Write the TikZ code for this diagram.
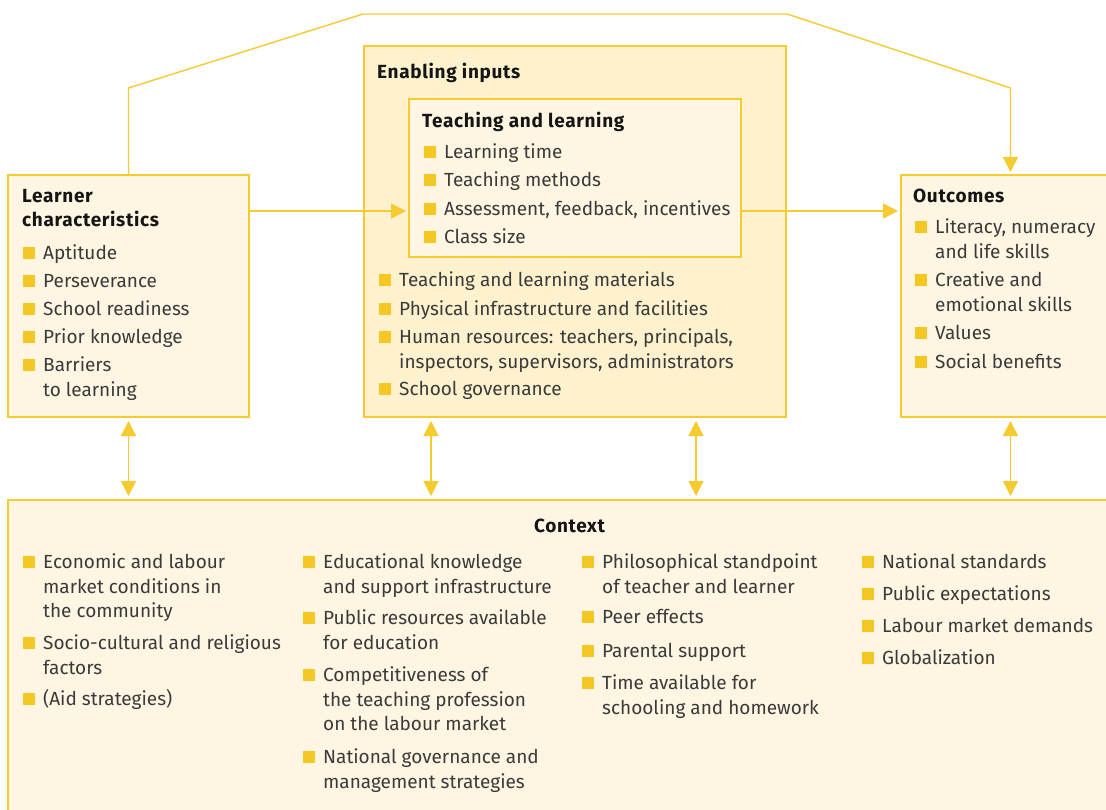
\documentclass[tikz,border=0pt]{standalone}
\usepackage{fontspec}
\setmainfont{Fira Sans}
\usetikzlibrary{arrows.meta}
\definecolor{ybord}{HTML}{F6CB30}
\definecolor{yfill}{HTML}{FEF6E2}
\definecolor{yfilldk}{HTML}{FEF2CE}
\definecolor{ybul}{HTML}{F5C723}
\definecolor{txt}{HTML}{3A3A3A}
\definecolor{hdc}{HTML}{151515}
\newcommand\twoln[2]{\vtop{\hbox{#1}\hbox{#2}}}
\newcommand\threeln[3]{\vtop{\hbox{#1}\hbox{#2}\hbox{#3}}}
\newcommand\bitem[5][20]{%
  \node[bul] (#2b) at (#3,#4) {};
  \node[itm] (#2) at (#3+#1,#4) {#5};}
\begin{document}
\begin{tikzpicture}[x=1pt,y=-1pt,
  box/.style={draw=ybord, line width=1.4pt, fill=yfill, anchor=north west, inner sep=0pt, outer sep=0pt},
  conn/.style={draw=ybord, line width=1.4pt},
  arr/.style={conn, -{Triangle[length=15pt,width=15pt]}, shorten >=3pt},
  darr/.style={conn, {Triangle[length=15pt,width=15pt]}-{Triangle[length=15pt,width=15pt]}, shorten >=4pt, shorten <=4pt},
  bul/.style={fill=ybul, anchor=south west, minimum size=12pt, inner sep=0pt},
  itm/.style={anchor=base west, inner sep=0pt, text=txt, font=\fontsize{19}{25}\selectfont},
  citm/.style={anchor=base west, inner sep=0pt, text=txt, font=\fontsize{19}{24.5}\selectfont},
  hd/.style={anchor=base west, inner sep=0pt, text=hdc, font=\fontsize{19}{24}\selectfont\bfseries\addfontfeature{LetterSpace=3.5}},
]
\useasboundingbox (0,0) rectangle (1106,809);
\fill[white] (0,0) rectangle (1106,809);

% boxes
\node[box, minimum width=241pt, minimum height=242pt] (learner) at (8,175) {};
\node[box, fill=yfilldk, minimum width=422pt, minimum height=371pt] (enabling) at (364,46) {};
\node[box, minimum width=332pt, minimum height=158pt] (teach) at (409,99) {};
\node[box, minimum width=219pt, minimum height=242pt] (outcomes) at (901,175) {};
\node[box, minimum width=1112pt, minimum height=330pt] (context) at (8,500) {};

% connectors
\coordinate (row) at (0,211);
\coordinate (k1) at (128.5,88);
\coordinate (k2) at (363,14);
\coordinate (k3) at (787,14);
\coordinate (k4) at (1010.5,88);
\draw[arr] (learner.north) -- (k1) -- (k2) -- (k3) -- (k4) -- (outcomes.north);
\draw[arr] (learner.east |- row) -- (teach.west |- row);
\draw[arr] (teach.east |- row) -- (outcomes.west |- row);
\coordinate (v2) at (431,0);
\coordinate (v3) at (696,0);
\draw[darr] (learner.south) -- (context.north -| learner.south);
\draw[darr] (enabling.south -| v2) -- (context.north -| v2);
\draw[darr] (enabling.south -| v3) -- (context.north -| v3);
\draw[darr] (outcomes.south) -- (context.north -| outcomes.south);

% learner
\node[hd] (lh) at (22,202) {\vtop{\hbox{Learner}\hbox{characteristics}}};
\bitem{l1}{23}{259.5}{Aptitude}
\bitem{l2}{23}{287.5}{Perseverance}
\bitem{l3}{23}{315.5}{School readiness}
\bitem{l4}{23}{343.5}{Prior knowledge}
\bitem{l5}{23}{371.5}{\twoln{Barriers}{to learning}}

% enabling
\node[hd] (eh) at (377,78) {Enabling inputs};
\node[hd] (th) at (422,127) {Teaching and learning};
\bitem{t1}{424}{158.5}{Learning time}
\bitem{t2}{424}{186.5}{Teaching methods}
\bitem{t3}{424}{215.5}{Assessment, feedback, incentives}
\bitem{t4}{424}{243.5}{Class size}
\bitem{e1}{379}{286.5}{Teaching and learning materials}
\bitem{e2}{379}{315.5}{Physical infrastructure and facilities}
\bitem{e3}{379}{343.5}{\twoln{Human resources: teachers, principals,}{inspectors, supervisors, administrators}}
\bitem{e4}{379}{395.5}{School governance}

% outcomes
\node[hd] (oh) at (913,202) {Outcomes};
\bitem{o1}{915}{233.5}{\twoln{Literacy, numeracy}{and life skills}}
\bitem{o2}{915}{286.5}{\twoln{Creative and}{emotional skills}}
\bitem{o3}{915}{339.5}{Values}
\bitem{o4}{915}{368.5}{Social benefits}

% context
\node[hd, anchor=base] (ch) at (569.5,532) {Context};
\tikzset{itm/.style={citm}}
\bitem{c11}{23}{568.5}{\threeln{Economic and labour}{market conditions in}{the community}}
\bitem{c12}{23}{649.5}{\twoln{Socio-cultural and religious}{factors}}
\bitem{c13}{23}{705.5}{(Aid strategies)}
\bitem{c21}{303}{568.5}{\twoln{Educational knowledge}{and support infrastructure}}
\bitem{c22}{303}{624.5}{\twoln{Public resources available}{for education}}
\bitem{c23}{303}{681.5}{\threeln{Competitiveness of}{the teaching profession}{on the labour market}}
\bitem{c24}{303}{763.5}{\twoln{National governance and}{management strategies}}
\bitem{c31}{582}{568.5}{\twoln{Philosophical standpoint}{of teacher and learner}}
\bitem{c32}{582}{623.5}{Peer effects}
\bitem{c33}{582}{657.5}{Parental support}
\bitem{c34}{582}{689.5}{\twoln{Time available for}{schooling and homework}}
\bitem{c41}{862}{568.5}{National standards}
\bitem{c42}{862}{600.5}{Public expectations}
\bitem{c43}{862}{632.5}{Labour market demands}
\bitem{c44}{862}{664.5}{Globalization}
\end{tikzpicture}
\end{document}
